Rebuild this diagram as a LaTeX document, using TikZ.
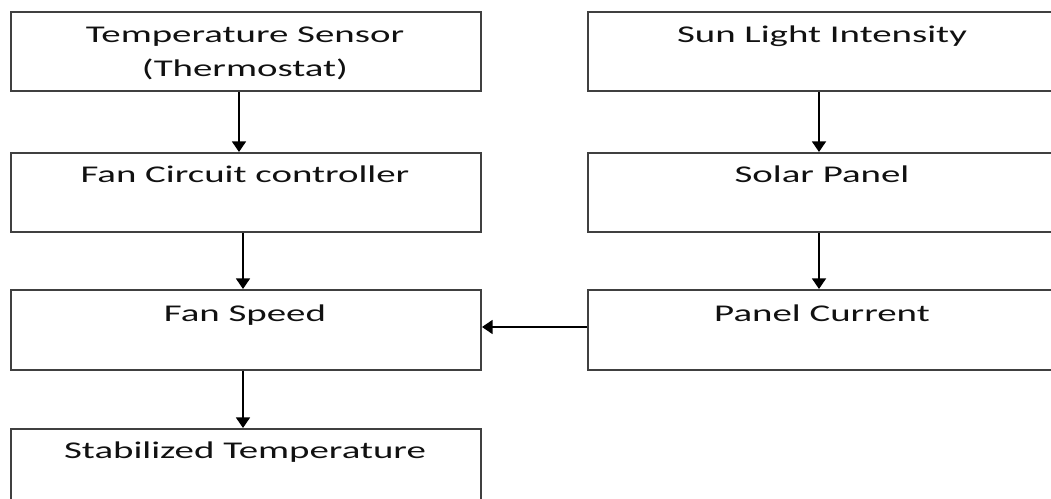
\documentclass[tikz,border=0pt]{standalone}
\usepackage{fontspec}
\setmainfont{Carlito}[FakeStretch=1.62]
\usetikzlibrary{arrows.meta}
\definecolor{boxline}{HTML}{404040}
\definecolor{txt}{HTML}{111111}
\tikzset{
  blk/.style={draw=boxline, line width=1.5pt, anchor=north west, inner sep=0pt},
  lab/.style={anchor=base, inner sep=0pt, text=txt, font=\fontsize{18pt}{25.5pt}\selectfont, align=center},
  arr/.style={draw=black, line width=1.4pt, -{Triangle[width=10.5pt,length=8pt]}}
}
\begin{document}
\begin{tikzpicture}[x=0.75pt,y=-0.75pt]
\useasboundingbox (0,0) rectangle (1051,499);
% left column
\node[blk, minimum width=352.5pt, minimum height=59.25pt] (ts) at (10,11) {};
\node[blk, minimum width=352.5pt, minimum height=59.25pt] (fc) at (10,152) {};
\node[blk, minimum width=352.5pt, minimum height=60pt] (fs) at (10,289) {};
\node[blk, minimum width=352.5pt, minimum height=70pt] (st) at (10,428) {};
% right column
\node[blk, minimum width=352.5pt, minimum height=59.25pt] (sl) at (587,11) {};
\node[blk, minimum width=352.5pt, minimum height=59.25pt] (sp) at (587,152) {};
\node[blk, minimum width=352.5pt, minimum height=60pt] (pc) at (587,289) {};
% labels
\node[lab] (tsl) at (245,77) {Temperature Sensor\\(Thermostat)};
\node[lab] (fcl) at (245,183) {Fan Circuit controller};
\node[lab] (fsl) at (245,322) {Fan Speed};
\node[lab] (stl) at (245,458) {Stabilized Temperature};
\node[lab] (sll) at (822,43) {Sun Light Intensity};
\node[lab] (spl) at (822,183) {Solar Panel};
\node[lab] (pcl) at (822,322) {Panel Current};
% connectors
\draw[arr] ([xshift=-5.25pt]ts.south) -- ([xshift=-5.25pt]fc.north);
\draw[arr] ([xshift=-2.25pt]fc.south) -- ([xshift=-2.25pt]fs.north);
\draw[arr] ([xshift=-2.25pt]fs.south) -- ([xshift=-2.25pt]st.north);
\draw[arr] ([xshift=-3pt]sl.south) -- ([xshift=-3pt]sp.north);
\draw[arr] ([xshift=-3pt]sp.south) -- ([xshift=-3pt]pc.north);
\draw[arr] ([yshift=2.25pt]pc.west) -- ([yshift=2.25pt]fs.east);
\end{tikzpicture}
\end{document}
